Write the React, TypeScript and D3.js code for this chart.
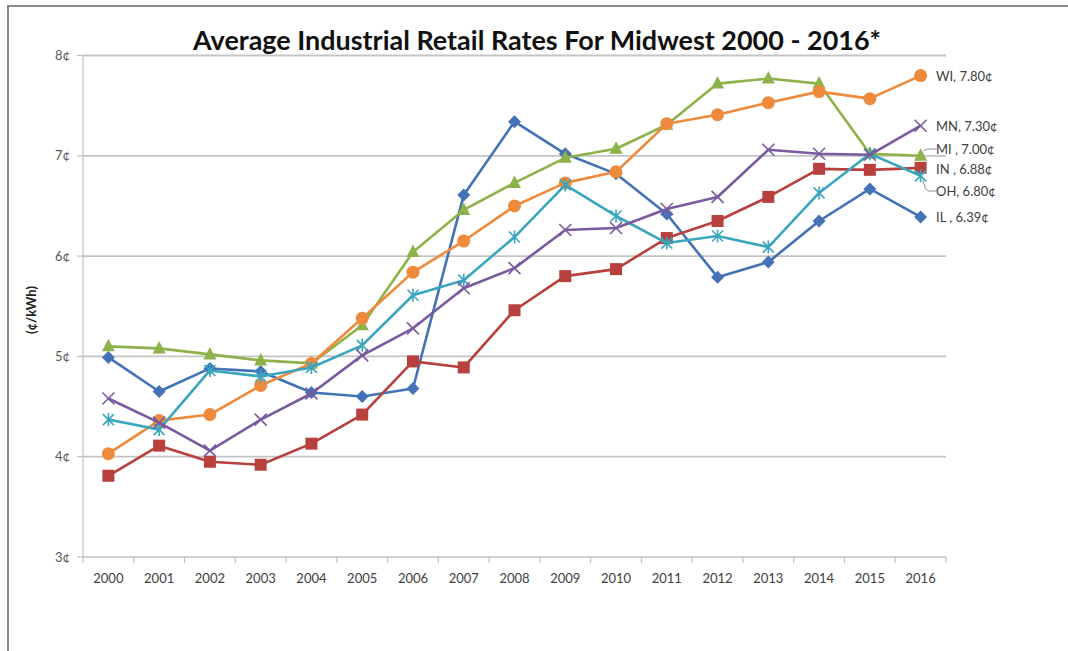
import React from "react";
import * as d3 from "d3";

const years = ["2000","2001","2002","2003","2004","2005","2006","2007","2008","2009","2010","2011","2012","2013","2014","2015","2016"];
const yTicks = [3, 4, 5, 6, 7, 8];

const IL = [4.99, 4.65, 4.88, 4.85, 4.64, 4.60, 4.68, 6.61, 7.34, 7.02, 6.82, 6.42, 5.79, 5.94, 6.35, 6.67, 6.39];
const IN = [3.81, 4.11, 3.95, 3.92, 4.13, 4.42, 4.95, 4.89, 5.46, 5.80, 5.87, 6.18, 6.35, 6.59, 6.87, 6.86, 6.88];
const MI = [5.10, 5.08, 5.02, 4.96, 4.93, 5.31, 6.04, 6.46, 6.73, 6.98, 7.07, 7.31, 7.72, 7.77, 7.72, 7.02, 7.00];
const WI = [4.03, 4.36, 4.42, 4.71, 4.93, 5.38, 5.84, 6.15, 6.50, 6.73, 6.84, 7.32, 7.41, 7.53, 7.64, 7.57, 7.80];
const OH = [4.37, 4.27, 4.86, 4.80, 4.89, 5.11, 5.61, 5.76, 6.19, 6.71, 6.40, 6.13, 6.20, 6.09, 6.63, 7.02, 6.80];
const MN = [4.58, 4.34, 4.06, 4.37, 4.63, 5.01, 5.28, 5.68, 5.88, 6.26, 6.28, 6.47, 6.59, 7.06, 7.02, 7.01, 7.30];

const seriesNames = ["IL", "IN", "MI", "WI", "OH", "MN"];
const seriesValues = [IL, IN, MI, WI, OH, MN];
const endLabels = ["IL , 6.39¢", "IN , 6.88¢", "MI , 7.00¢", "WI, 7.80¢", "OH, 6.80¢", "MN, 7.30¢"];

const styles: Record<string, { color: string; marker: string; labelY: number }> = {
  IL: { color: "#4372b6", marker: "diamond", labelY: 217 },
  IN: { color: "#b8413e", marker: "square", labelY: 169 },
  MI: { color: "#8db24a", marker: "triangle", labelY: 149 },
  WI: { color: "#ee8a3c", marker: "circle", labelY: 76 },
  OH: { color: "#3aa6be", marker: "star", labelY: 191 },
  MN: { color: "#7a5a9e", marker: "cross", labelY: 126 },
};

const W = 1068, H = 651;
const left = 83, right = 946, top = 55.5, bottom = 557;

export default function App() {
  const x = d3.scaleBand<string>().domain(years).range([left, right]);
  const y = d3.scaleLinear().domain([3, 8]).range([bottom, top]);
  const cx = (yr: string) => (x(yr) as number) + x.bandwidth() / 2;
  const line = d3.line<number>().x((_, i) => cx(years[i])).y((v) => y(v));

  const font = "Lato, 'Open Sans', sans-serif";

  const marker = (type: string, px: number, py: number, color: string, key: string) => {
    switch (type) {
      case "diamond":
        return <path key={key} d={`M${px},${py - 6.5}L${px + 6.5},${py}L${px},${py + 6.5}L${px - 6.5},${py}Z`} fill={color} />;
      case "square":
        return <rect key={key} x={px - 6} y={py - 6} width={12} height={12} fill={color} />;
      case "triangle":
        return <path key={key} d={`M${px},${py - 7.5}L${px + 6.5},${py + 5}L${px - 6.5},${py + 5}Z`} fill={color} />;
      case "circle":
        return <circle key={key} cx={px} cy={py} r={6.5} fill={color} />;
      case "cross":
        return (
          <path key={key} d={`M${px - 6},${py - 6}L${px + 6},${py + 6}M${px - 6},${py + 6}L${px + 6},${py - 6}`} stroke={color} strokeWidth={1.6} fill="none" />
        );
      case "star":
        return (
          <path key={key} d={`M${px - 5.5},${py - 5.5}L${px + 5.5},${py + 5.5}M${px - 5.5},${py + 5.5}L${px + 5.5},${py - 5.5}M${px},${py - 6.5}L${px},${py + 6.5}`} stroke={color} strokeWidth={1.6} fill="none" />
        );
    }
    return null;
  };

  const lastX = cx(years[years.length - 1]);

  return (
    <svg width={W} height={H} style={{ position: "absolute", left: 0, top: 0, background: "#fff" }}>
      {/* frame */}
      <line x1={7} y1={6} x2={W} y2={6} stroke="#8a8a8a" strokeWidth={2} />
      <line x1={8} y1={6} x2={8} y2={H} stroke="#8a8a8a" strokeWidth={2} />

      {/* title */}
      <text x={537} y={50} textAnchor="middle" fontFamily={font} fontWeight="bold" fontSize={26} fill="#111" textLength={688} lengthAdjust="spacingAndGlyphs">
        Average Industrial Retail Rates For Midwest 2000 - 2016*
      </text>

      {/* gridlines */}
      {yTicks.filter((t) => t > 3).map((t) => (
        <line key={"g" + t} x1={left} x2={right} y1={y(t)} y2={y(t)} stroke="#c4c4c4" strokeWidth={1.8} />
      ))}
      {/* axes */}
      <line x1={left} x2={left} y1={top} y2={bottom} stroke="#c0c0c0" strokeWidth={1.2} />
      <line x1={left} x2={right} y1={bottom} y2={bottom} stroke="#c0c0c0" strokeWidth={1.6} />
      {yTicks.map((t) => (
        <g key={"yt" + t}>
          <line x1={left - 6} x2={left} y1={y(t)} y2={y(t)} stroke="#c0c0c0" strokeWidth={1.2} />
          <text x={70} y={y(t) + 4.5} textAnchor="end" fontFamily={font} fontSize={13} fill="#595959">{t}¢</text>
        </g>
      ))}
      {years.map((yr, i) => (
        <line key={"xt" + yr} x1={left + i * x.step()} x2={left + i * x.step()} y1={bottom} y2={bottom + 6} stroke="#c0c0c0" strokeWidth={1.2} />
      ))}
      <line x1={right} x2={right} y1={bottom} y2={bottom + 6} stroke="#c0c0c0" strokeWidth={1.2} />
      {years.map((yr) => (
        <text key={"xl" + yr} x={cx(yr)} y={583} textAnchor="middle" fontFamily={font} fontSize={13} fill="#404040">{yr}</text>
      ))}

      {/* y axis title */}
      <text transform={`translate(36,310) rotate(-90)`} textAnchor="middle" fontFamily={font} fontWeight="bold" fontSize={13} fill="#222">(¢/kWh)</text>

      {/* series */}
      {seriesNames.map((name, si) => {
        const s = styles[name];
        const vals = seriesValues[si];
        return (
          <g key={name}>
            <path d={line(vals) as string} fill="none" stroke={s.color} strokeWidth={2.6} strokeLinejoin="round" />
            {vals.map((v, i) => marker(s.marker, cx(years[i]), y(v), s.color, name + i))}
          </g>
        );
      })}

      {/* leader lines */}
      <polyline points={`${lastX + 3},${y(MI[16]) - 5} ${lastX + 7},${styles.MI.labelY} ${lastX + 16},${styles.MI.labelY}`} fill="none" stroke="#8c8c8c" strokeWidth={1} />
      <polyline points={`${lastX + 2},${y(OH[16]) + 4} ${lastX + 5},${styles.OH.labelY - 2} ${lastX + 8},${styles.OH.labelY} ${lastX + 16},${styles.OH.labelY}`} fill="none" stroke="#8c8c8c" strokeWidth={1} />

      {/* end labels */}
      {seriesNames.map((name, si) => (
        <text key={"lab" + name} x={936} y={styles[name].labelY + 4.5} fontFamily={font} fontSize={13} fill="#404040">{endLabels[si]}</text>
      ))}
    </svg>
  );
}
